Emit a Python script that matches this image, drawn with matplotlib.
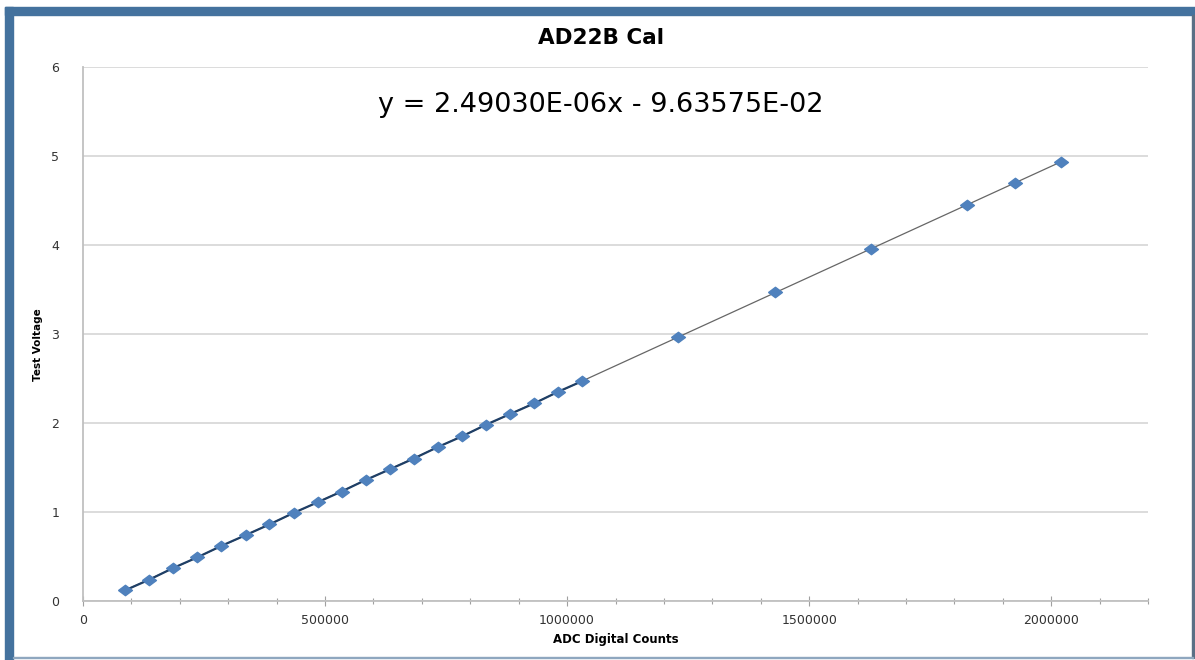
"""
AD22B calibration chart: ADC counts vs test voltage with linear trendline.
"""

import matplotlib.pyplot as plt
from matplotlib.patches import Rectangle
from matplotlib.ticker import MultipleLocator, FuncFormatter
import numpy as np

# ADC readings (counts) and applied test voltages
adc_counts = [87000, 137000, 186000, 236000, 286000, 336000, 385000, 435000,
              485000, 534000, 584000, 634000, 683000, 733000, 783000, 832000,
              882000, 932000, 981000, 1031000,
              1230000, 1430000, 1628000, 1826000, 1925000, 2020000]
test_voltage = [0.12, 0.24, 0.37, 0.49, 0.62, 0.74, 0.86, 0.99,
                1.11, 1.23, 1.36, 1.48, 1.60, 1.73, 1.85, 1.98,
                2.10, 2.22, 2.35, 2.47,
                2.97, 3.47, 3.96, 4.45, 4.70, 4.93]
n_connected = 20  # first sweep is drawn with a connecting line

# trendline from the chart label
slope = 2.49030e-06
intercept = -9.63575e-02
equation = 'y = 2.49030E-06x - 9.63575E-02'

title = 'AD22B Cal'
x_label = 'ADC Digital Counts'
y_label = 'Test Voltage'

frame_blue = '#44729e'
point_blue = '#4f81bd'
text_col = '#333333'

fig = plt.figure(figsize=(11.95, 6.6), dpi=100)

# outer chart frame (thick blue top/left, thin right/bottom)
fig.patches.append(Rectangle((5/1195, 1-15/660), 1190/1195, 8/660,
                             transform=fig.transFigure, color=frame_blue, zorder=0))
fig.patches.append(Rectangle((5/1195, 0), 8/1195, 1-7/660,
                             transform=fig.transFigure, color=frame_blue, zorder=0))
fig.patches.append(Rectangle((1192/1195, 2/660), 1.5/1195, 1-17/660,
                             transform=fig.transFigure, color='#5a6f85', zorder=0))
fig.patches.append(Rectangle((13/1195, 2/660), 1180/1195, 1.5/660,
                             transform=fig.transFigure, color='#8fa7bf', zorder=0))

ax = fig.add_axes([83/1195, 1-601/660, (1148-83)/1195, (601-67)/660])

# trendline over the data range
x_fit = np.array([adc_counts[0], adc_counts[-1]])
ax.plot(x_fit, slope*x_fit + intercept, color='#666666', linewidth=0.9, zorder=2)

# connected first sweep
ax.plot(adc_counts[:n_connected], test_voltage[:n_connected],
        color='#1f3f66', linewidth=1.6, zorder=3)

# diamond markers (a bit wider than tall, like the original)
diamond = [(-1, 0), (0, 0.75), (1, 0), (0, -0.75), (-1, 0)]
ax.plot(adc_counts, test_voltage, linestyle='none', marker=diamond,
        markersize=10, color=point_blue, markeredgecolor=point_blue, zorder=4)

ax.set_xlim(0, 2200000)
ax.set_ylim(0, 6)
ax.xaxis.set_major_locator(MultipleLocator(500000))
ax.xaxis.set_minor_locator(MultipleLocator(100000))
ax.yaxis.set_major_locator(MultipleLocator(1))
ax.xaxis.set_major_formatter(FuncFormatter(lambda v, p: f'{int(v)}'))
ax.yaxis.set_major_formatter(FuncFormatter(lambda v, p: f'{int(v)}'))

ax.grid(True, axis='y', color='#d9d9d9', linewidth=1.3)
ax.set_axisbelow(True)
for s in ['top', 'right']:
    ax.spines[s].set_visible(False)
for s in ['left', 'bottom']:
    ax.spines[s].set_color('#c0c0c0')
    ax.spines[s].set_linewidth(1.3)

ax.tick_params(axis='x', which='major', direction='inout', length=7, width=0.8,
               color='#a0a0a0', labelsize=9, labelcolor=text_col, pad=6)
ax.tick_params(axis='x', which='minor', direction='inout', length=4, width=0.8,
               color='#a0a0a0')
ax.tick_params(axis='y', length=0, labelsize=9, labelcolor=text_col, pad=17)

ax.set_xlabel(x_label, fontsize=8.5, fontweight='bold', color='black', labelpad=4)
ax.set_ylabel(y_label, fontsize=7.5, fontweight='bold', color='black')
ax.yaxis.set_label_coords((43-83)/1065, (601-345)/534)

fig.text(601/1195, 1-38/660, title, fontsize=15.5, fontweight='bold',
         ha='center', va='center')
ax.text(601/1195, 1-105/660, equation, transform=fig.transFigure,
        fontsize=19.5, ha='center', va='center', color='black')

plt.savefig('out.png', dpi=100)
plt.close()
